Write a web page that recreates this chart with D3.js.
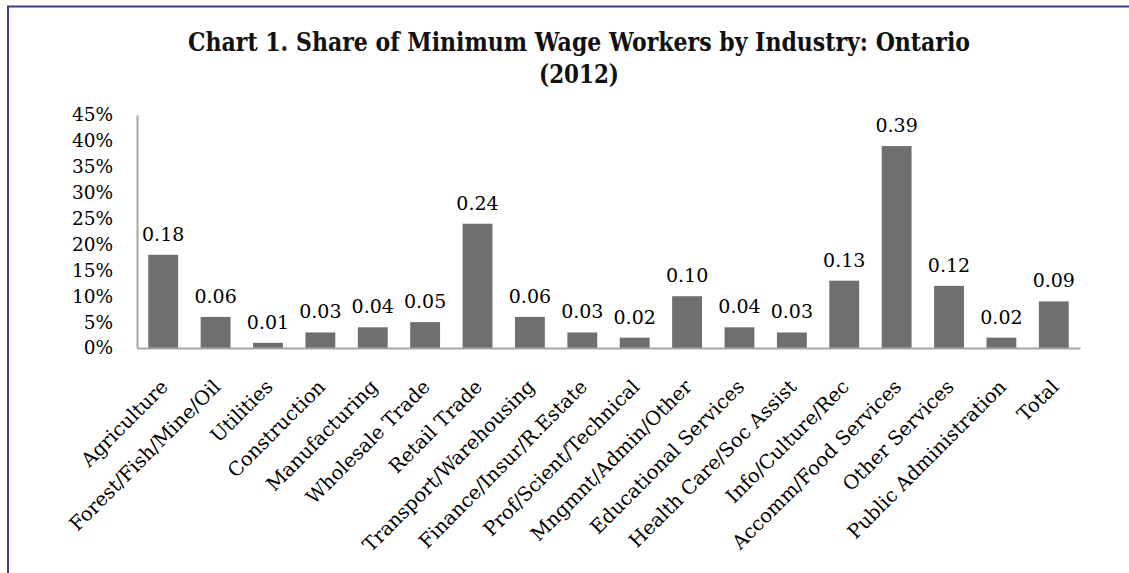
<!DOCTYPE html>
<html>
<head>
<meta charset="utf-8">
<script src="https://cdn.jsdelivr.net/npm/d3@7"></script>
<style>
  html, body { margin: 0; padding: 0; background: #fff; }
  svg { display: block; }
</style>
</head>
<body>
<svg id="chart" width="1129" height="573"></svg>
<script>
// Industries along the x axis
const industries = [
  "Agriculture", "Forest/Fish/Mine/Oil", "Utilities", "Construction",
  "Manufacturing", "Wholesale Trade", "Retail Trade", "Transport/Warehousing",
  "Finance/Insur/R.Estate", "Prof/Scient/Technical", "Mngmnt/Admin/Other",
  "Educational Services", "Health Care/Soc Assist", "Info/Culture/Rec",
  "Accomm/Food Services", "Other Services", "Public Administration", "Total"
];

// Share of minimum wage workers in each industry
const shares = [
  0.18, 0.06, 0.01, 0.03, 0.04, 0.05, 0.24, 0.06, 0.03,
  0.02, 0.10, 0.04, 0.03, 0.13, 0.39, 0.12, 0.02, 0.09
];

// Y axis ticks
const yTicks = [0, 0.05, 0.10, 0.15, 0.20, 0.25, 0.30, 0.35, 0.40, 0.45];

const titleLines = [
  "Chart 1. Share of Minimum Wage Workers by Industry: Ontario",
  "(2012)"
];

const W = 1129, H = 573;
const svg = d3.select("#chart");
const serif = "'DejaVu Serif', 'Liberation Serif', serif";

// Frame lines along the top and left edges
svg.append("line")
  .attr("x1", 7).attr("x2", W).attr("y1", 6.5).attr("y2", 6.5)
  .attr("stroke", "#3c3c96").attr("stroke-width", 2);
svg.append("line")
  .attr("x1", 8).attr("x2", 8).attr("y1", 6).attr("y2", H)
  .attr("stroke", "#3c3c96").attr("stroke-width", 2);

// Title
const title = svg.append("g")
  .attr("font-family", serif)
  .attr("font-weight", "bold")
  .attr("font-size", 26)
  .attr("fill", "#111")
  .attr("text-anchor", "middle");
title.append("text")
  .attr("x", 579).attr("y", 51)
  .attr("textLength", 782)
  .attr("lengthAdjust", "spacingAndGlyphs")
  .text(titleLines[0]);
title.append("text")
  .attr("x", 579).attr("y", 83)
  .attr("textLength", 80)
  .attr("lengthAdjust", "spacingAndGlyphs")
  .text(titleLines[1]);

// Scales
const x = d3.scaleBand()
  .domain(industries)
  .range([137, 1080])
  .paddingInner(0.43)
  .paddingOuter(0.215);

const y = d3.scaleLinear()
  .domain([0, 0.45])
  .range([348, 115]);

// Y axis: labels only, with a plain grey axis line
const yAxis = svg.append("g")
  .attr("transform", "translate(137,0)")
  .call(d3.axisLeft(y).tickValues(yTicks).tickFormat(d3.format(".0%")).tickSize(0).tickPadding(24));
yAxis.select(".domain").attr("stroke", "#a6a6a6").attr("stroke-width", 2);
yAxis.selectAll("text")
  .attr("font-family", serif)
  .attr("font-size", 18.5)
  .attr("fill", "#000");

// Bars
svg.append("g")
  .selectAll("rect")
  .data(shares)
  .join("rect")
  .attr("x", (d, i) => x(industries[i]))
  .attr("width", x.bandwidth())
  .attr("y", d => y(d))
  .attr("height", d => y(0) - y(d))
  .attr("fill", "#6f6f6f");

// Value labels above the bars
svg.append("g")
  .attr("font-family", serif)
  .attr("font-size", 19)
  .attr("fill", "#000")
  .attr("text-anchor", "middle")
  .selectAll("text")
  .data(shares)
  .join("text")
  .attr("x", (d, i) => x(industries[i]) + x.bandwidth() / 2)
  .attr("y", d => y(d) - 14)
  .text(d => d3.format(".2f")(d));

// X axis: line and rotated category labels
const xAxis = svg.append("g")
  .attr("transform", "translate(0,348)")
  .call(d3.axisBottom(x).tickSize(0).tickSizeOuter(0).tickPadding(0));
xAxis.select(".domain").attr("stroke", "#a6a6a6").attr("stroke-width", 2);
xAxis.selectAll(".tick text")
  .attr("font-family", serif)
  .attr("font-size", 19.5)
  .attr("fill", "#000")
  .attr("text-anchor", "end")
  .attr("dy", 0)
  .attr("y", 0)
  .attr("transform", "translate(6,40) rotate(-45)");
</script>
</body>
</html>
